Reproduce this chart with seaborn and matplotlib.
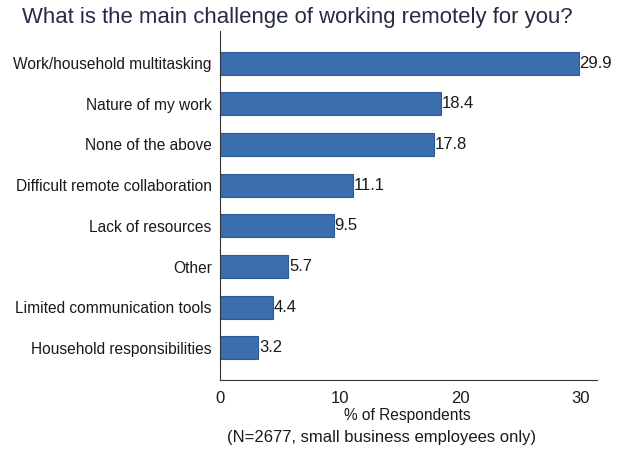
import matplotlib
matplotlib.use("Agg")
import matplotlib.pyplot as plt
import seaborn as sns
import pandas as pd

# 数据
categories = [
    "Work/household multitasking",
    "Nature of my work",
    "None of the above",
    "Difficult remote collaboration",
    "Lack of resources",
    "Other",
    "Limited communication tools",
    "Household responsibilities",
]
values = [29.9, 18.4, 17.8, 11.1, 9.5, 5.7, 4.4, 3.2]
x_ticks = [0, 10, 20, 30]

sns.set_theme(style="white")
plt.rcParams['font.family'] = ['Liberation Sans', 'DejaVu Sans']

df = pd.DataFrame({"Challenge": categories, "Share": values})

fig = plt.figure(figsize=(6.26, 4.51), dpi=100)
ax = fig.add_axes([0.3514, 0.1574, 0.6023, 0.7739])

sns.barplot(data=df, x="Share", y="Challenge", color="#3b6eaf", width=0.57,
            edgecolor="#2d5a92", linewidth=0.8, saturation=1, ax=ax)

# 数值标签
for i, v in enumerate(values):
    ax.text(v + 0.05, i, f"{v:.1f}", va="center", ha="left", fontsize=12, color="#1a1a1a")

ax.set_xlim(0, 31.4)
ax.set_ylim(7.79, -0.79)
ax.set_xticks(x_ticks)
ax.tick_params(axis="x", length=5, width=0.8, colors="#333333", labelsize=12,
               labelcolor="#1a1a1a", pad=3)
ax.tick_params(axis="y", length=0, labelsize=11.2, labelcolor="#1a1a1a", pad=6)
ax.set_xlabel("% of Respondents", fontsize=11.2, color="#1a1a1a")
ax.xaxis.set_label_coords(0.497, -0.103)
ax.xaxis.label.set_va("center")
ax.set_ylabel("")
sns.despine(ax=ax)
for s in ["left", "bottom"]:
    ax.spines[s].set_color("#333333")
    ax.spines[s].set_linewidth(0.8)

fig.text(0.035, 0.962, "What is the main challenge of working remotely for you?",
         fontsize=15.9, color="#252b42", ha="left", va="center")
fig.text(0.609, 0.029, "(N=2677, small business employees only)",
         fontsize=12, color="#1a1a1a", ha="center", va="center")

fig.savefig("out.png", dpi=100)
